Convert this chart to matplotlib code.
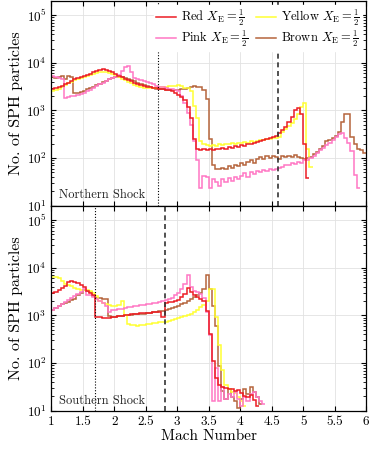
import numpy as np
import matplotlib
matplotlib.use("Agg")
import matplotlib.pyplot as plt

plt.rcParams['font.family'] = 'serif'
plt.rcParams['font.serif'] = ['cmr10', 'DejaVu Serif']
plt.rcParams['mathtext.fontset'] = 'cm'
plt.rcParams['axes.formatter.use_mathtext'] = True

nan = np.nan

# histogram bins in Mach number
edges = np.round(np.arange(1.0, 6.0001, 0.05), 3)

# log10 of particle counts per bin, northern shock
red_north = [3.45, 3.47, 3.49, 3.52, 3.55, 3.58, 3.62, 3.66, 3.68, 3.71,
             3.73, 3.75, 3.77, 3.80, 3.83, 3.85, 3.86, 3.85, 3.83, 3.80,
             3.77, 3.73, 3.70, 3.67, 3.64, 3.61, 3.58, 3.56, 3.54, 3.52,
             3.50, 3.49, 3.48, 3.47, 3.46, 3.45, 3.43, 3.42, 3.40, 3.37,
             3.33, 3.28, 3.22, 3.08, 2.85, 2.40, 2.19, 2.17, 2.20, 2.16,
             2.18, 2.17, 2.20, 2.18, 2.21, 2.20, 2.23, 2.22, 2.25, 2.24,
             2.27, 2.26, 2.29, 2.30, 2.32, 2.33, 2.36, 2.37, 2.40, 2.42,
             2.45, 2.46, 2.52, 2.58, 2.66, 2.76, 2.86, 3.00, 3.06, 2.92,
             2.30, 1.59]
yellow_north = [3.41, 3.43, 3.46, 3.50, 3.53, 3.57, 3.60, 3.63, 3.66, 3.69,
                3.71, 3.73, 3.75, 3.77, 3.79, 3.80, 3.81, 3.81, 3.79, 3.77,
                3.74, 3.71, 3.67, 3.63, 3.60, 3.57, 3.54, 3.52, 3.50, 3.48,
                3.47, 3.47, 3.48, 3.48, 3.49, 3.50, 3.50, 3.51, 3.52, 3.51,
                3.53, 3.51, 3.48, 3.47, 3.40, 3.10, 2.85, 2.35, 2.30, 2.27,
                2.26, 2.28, 2.26, 2.29, 2.28, 2.30, 2.29, 2.31, 2.30, 2.32,
                2.31, 2.33, 2.32, 2.35, 2.34, 2.36, 2.38, 2.37, 2.40, 2.41,
                2.43, 2.42, 2.45, 2.55, 2.62, 2.68, 2.74, 2.83, 2.93, 3.08,
                3.16, 2.20, 1.82]
pink_north = [3.72, 3.70, 3.68, 3.66, 3.27, 3.28, 3.30, 3.31, 3.32, 3.34,
              3.37, 3.40, 3.43, 3.47, 3.51, 3.55, 3.58, 3.62, 3.65, 3.68,
              3.71, 3.75, 3.82, 3.92, 3.93, 3.80, 3.68, 3.66, 3.64, 3.62,
              3.60, 3.57, 3.55, 3.52, 3.50, 3.49, 3.48, 3.46, 3.44, 3.42,
              3.40, 3.30, 3.15, 2.95, 2.70, 2.35, 1.95, 1.38, 1.62, 1.60,
              1.38, 1.55, 1.50, 1.42, 1.55, 1.50, 1.58, 1.52, 1.60, 1.55,
              1.62, 1.68, 1.60, 1.70, 1.66, 1.72, 1.70, 1.74, 1.72, 1.76,
              1.74, 1.78, 1.80, 1.82, 1.86, 1.85, 1.90, 1.88, 1.92, 1.90,
              1.95, 1.96, 2.00, 2.04, 2.10, 2.16, 2.22, 2.27, 2.32, 2.38,
              2.45, 2.50, 2.52, 2.42, 2.32, 2.15, 1.65, 1.38]
brown_north = [3.70, 3.68, 3.70, 3.72, 3.67, 3.72, 3.70, 3.37, 3.37, 3.38,
               3.41, 3.44, 3.47, 3.50, 3.53, 3.56, 3.59, 3.62, 3.65, 3.68,
               3.70, 3.71, 3.70, 3.68, 3.66, 3.64, 3.61, 3.58, 3.55, 3.53,
               3.51, 3.49, 3.48, 3.46, 3.45, 3.44, 3.43, 3.43, 3.42, 3.42,
               3.42, 3.44, 3.46, 3.48, 3.50, 3.51, 3.50, 3.49, 3.43, 3.24,
               2.40, 1.85, 1.76, 1.78, 1.80, 1.78, 1.84, 1.80, 1.86, 1.84,
               1.90, 1.86, 1.92, 1.95, 1.90, 1.98, 2.02, 1.98, 2.04, 2.00,
               2.05, 2.02, 1.98, 2.04, 2.02, 2.05, 2.02, 2.06, 2.03, 2.00,
               1.98, 2.00, 2.03, 2.08, 2.12, 2.20, 2.26, 2.35, 2.38, 2.43,
               2.47, 2.55, 2.75, 2.92, 2.92, 2.45, 2.30, 2.20, 2.16, 2.10]

# log10 of particle counts per bin, southern shock
red_south = [3.46, 3.50, 3.53, 3.57, 3.62, 3.70, 3.72, 3.70, 3.67, 3.63,
             3.60, 3.52, 3.46, 3.42, 2.97, 2.96, 2.95, 2.94, 2.95, 2.96,
             2.97, 2.98, 2.99, 3.00, 3.01, 3.02, 3.03, 3.04, 3.05, 3.05,
             3.06, 3.06, 3.07, 3.08, 3.07, 2.96, 3.27, 3.28, 3.29, 3.30,
             3.33, 3.38, 3.44, 3.58, 3.50, 3.42, 3.38, 3.35, 3.30, 3.10,
             2.62, 2.05, 1.68, 1.55, 1.50, 1.47, 1.45, 1.46, 1.42, 1.44,
             1.38, 1.32, 1.28, 1.34, 1.22, 1.10]
yellow_south = [3.81, 3.81, 3.78, 3.72, 3.66, 3.64, 3.62, 3.58, 3.55, 3.54,
                3.53, 3.53, 3.52, 3.46, 3.40, 3.30, 3.25, 3.24, 3.22, 3.20,
                3.20, 3.22, 3.30, 3.00, 2.82, 2.80, 2.79, 2.78, 2.79, 2.80,
                2.81, 2.83, 2.84, 2.85, 2.86, 2.87, 2.87, 2.88, 2.90, 2.92,
                2.95, 2.97, 2.98, 3.00, 3.04, 3.08, 3.12, 3.18, 3.22, 3.30,
                3.55, 3.55, 2.97, 2.38, 1.85, 1.55, 1.45, 1.40, 1.38, 1.30,
                1.20, 1.10]
pink_south = [3.12, 3.16, 3.20, 3.24, 3.28, 3.32, 3.36, 3.40, 3.45, 3.50,
              3.55, 3.42, 3.42, 3.39, 3.35, 3.30, 3.25, 3.20, 3.08, 3.11,
              3.12, 3.13, 3.14, 3.16, 3.17, 3.18, 3.19, 3.20, 3.21, 3.22,
              3.23, 3.24, 3.25, 3.27, 3.28, 3.30, 3.32, 3.34, 3.37, 3.42,
              3.48, 3.55, 3.65, 3.85, 3.60, 3.52, 3.50, 3.45, 3.37, 3.08,
              2.60, 1.20, 1.90, 1.20, 1.50, 1.25, 1.35, 1.30, 1.40, 1.25,
              1.10, 1.30, 1.20, 1.35, 1.40, 1.30, 1.20, 1.15]
brown_south = [3.12, 3.15, 3.19, 3.23, 3.26, 3.29, 3.32, 3.35, 3.42, 3.47,
               3.53, 3.52, 3.50, 3.40, 3.37, 3.36, 3.35, 3.34, 2.98, 2.97,
               2.97, 2.98, 2.99, 3.00, 3.00, 3.01, 3.02, 3.03, 3.03, 3.04,
               3.05, 3.06, 3.07, 3.08, 3.09, 3.10, 3.12, 3.14, 3.16, 3.18,
               3.20, 3.23, 3.26, 3.30, 3.34, 3.38, 3.42, 3.47, 3.55, 3.85,
               3.55, 3.20, 2.78, 1.95, 1.42, 1.25, 1.45, 1.30, 1.20, 1.05,
               1.25, 1.45, 1.35, 1.50, 1.40, 1.30, 1.15]

names = ['Red', 'Pink', 'Yellow', 'Brown']
colors = {'Red': '#ec1c24', 'Pink': '#ff77c4', 'Yellow': '#ffff33', 'Brown': '#b5643c'}

north = {'Red': red_north, 'Pink': pink_north, 'Yellow': yellow_north, 'Brown': brown_north}
south = {'Red': red_south, 'Pink': pink_south, 'Yellow': yellow_south, 'Brown': brown_south}

# dotted / dashed reference Mach numbers
north_lines = (2.7, 4.6)
south_lines = (1.7, 2.8)


def counts(logv):
    v = np.full(len(edges) - 1, nan)
    v[:len(logv)] = 10.0 ** np.array(logv)
    return v


fig = plt.figure(figsize=(3.74, 4.49), dpi=100)
ax1 = fig.add_axes([0.137, 0.542, 0.842, 0.456])
ax2 = fig.add_axes([0.137, 0.085, 0.842, 0.457], sharex=ax1)

label_tail = r' $X_{\mathrm{E}} = \frac{1}{2}$'
draw_order = ['Brown', 'Yellow', 'Pink', 'Red']
for ax, data, lines, title in [(ax1, north, north_lines, 'Northern Shock'),
                               (ax2, south, south_lines, 'Southern Shock')]:
    for name in draw_order:
        ax.stairs(counts(data[name]), edges, color=colors[name], lw=1.1,
                  baseline=None, label=name + label_tail)
    ax.axvline(lines[0], color='black', ls=(0, (1, 1.6)), lw=0.8)
    ax.axvline(lines[1], color='#333333', ls=(0, (3, 2.2)), lw=1.2)
    ax.set_yscale('log')
    ax.set_ylim(10, 2e5)
    ax.set_xlim(1, 6)
    ax.set_xticks(np.arange(1, 6.01, 0.5))
    ax.grid(True, which='major', color='#e2e2e2', lw=0.6)
    ax.set_axisbelow(True)
    ax.tick_params(which='both', direction='in', top=True, right=True, labelsize=9.5)
    ax.tick_params(which='major', length=3.5)
    ax.tick_params(which='minor', length=2)
    ax.set_ylabel('No. of SPH particles', fontsize=11.5, labelpad=2)
    ax.text(0.025, 0.035, title, transform=ax.transAxes, fontsize=9, color='#222222')
    for s in ax.spines.values():
        s.set_linewidth(0.9)

ax2.set_xticklabels(['1', '1.5', '2', '2.5', '3', '3.5', '4', '4.5', '5', '5.5', '6'])
plt.setp(ax1.get_xticklabels(), visible=False)
ax2.set_xlabel('Mach Number', fontsize=11, labelpad=1)

h, l = ax1.get_legend_handles_labels()
order = [l.index(n + label_tail) for n in names]
leg = ax1.legend([h[i] for i in order], [l[i] for i in order], loc='upper right', ncol=2,
                 fontsize=9, handlelength=1.6, handletextpad=0.4, columnspacing=0.6,
                 labelspacing=0.05, borderaxespad=0.3, borderpad=0.2, frameon=True,
                 fancybox=False, framealpha=1, edgecolor='white')
for lh in leg.get_patches():
    lh.set_linewidth(1.0)

fig.savefig('out.png', dpi=100)
